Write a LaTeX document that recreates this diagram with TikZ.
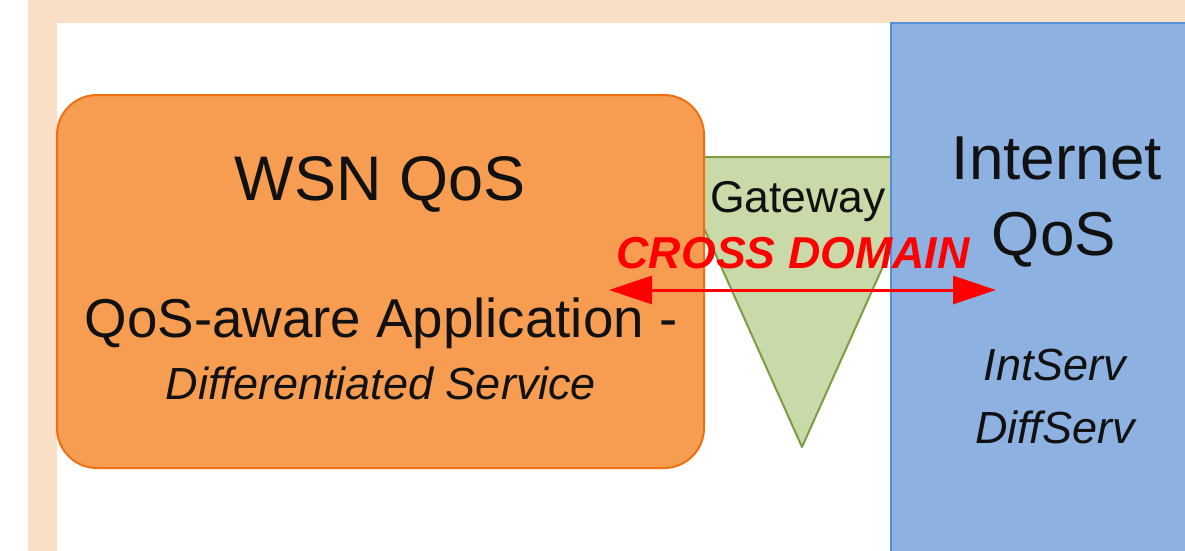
\documentclass[tikz,border=0pt]{standalone}
\usepackage{fontspec}
\setmainfont{Liberation Sans}
\usetikzlibrary{arrows.meta}
\definecolor{peach}{HTML}{FADFC7}
\definecolor{wsnfill}{HTML}{F79D51}
\definecolor{wsnline}{HTML}{EE7012}
\definecolor{netfill}{HTML}{8DB2E2}
\definecolor{netline}{HTML}{5790D6}
\definecolor{gwfill}{HTML}{C9D9A7}
\definecolor{gwline}{HTML}{7D9D45}
\definecolor{txt}{HTML}{111111}
\tikzset{
  label/.style={anchor=base, inner sep=0pt, text=txt},
  crossarrow/.style={draw=red, line width=3pt,
    {Triangle[length=43pt,width=28pt]}-{Triangle[length=43pt,width=28pt]}},
}
\begin{document}
\begin{tikzpicture}[x=1pt,y=-1pt]
\useasboundingbox (0,0) rectangle (1185,551);
% page frame
\fill[white] (0,0) rectangle (1185,551);
\fill[peach] (28,0) rectangle (1185,551);
\fill[white] (57,23) rectangle (1185,551);

% gateway triangle, partly covered by both domains
\draw[fill=gwfill, draw=gwline, line width=2pt, line join=round]
  (672,157) -- (932,157) -- (802,447) -- cycle;

% WSN domain
\draw[fill=wsnfill, draw=wsnline, line width=2pt, rounded corners=40pt]
  (57,95) rectangle (704,468);

% Internet domain
\draw[fill=netfill, draw=netline, line width=2.5pt]
  (891,23) rectangle (1200,570);

% labels
\node[label, font=\fontsize{63}{70}\selectfont] (wsn) at (380,200) {WSN QoS};
\node[label, font=\fontsize{54.7}{60}\selectfont] (app) at (381,337) {QoS-aware Application -};
\node[label, font=\fontsize{45}{50}\itshape] (diff) at (381,399) {Differentiated Service};
\node[label, font=\fontsize{44.5}{50}\selectfont] (gw) at (798,212) {Gateway};
\node[label, font=\fontsize{62}{70}\selectfont] (inet) at (1057,179) {Internet};
\node[label, font=\fontsize{62}{70}\selectfont] (qos) at (1054,255) {QoS};
\node[label, font=\fontsize{45}{50}\itshape] (intserv) at (1055,380) {IntServ};
\node[label, font=\fontsize{45}{50}\itshape] (diffserv) at (1055,443) {DiffServ};
\node[label, text=red, font=\fontsize{44.7}{50}\bfseries\itshape] (cross) at (793,268) {CROSS DOMAIN};

% cross-domain link
\coordinate (wsnend) at (609,290);
\coordinate (netend) at (996,290);
\draw[crossarrow] (wsnend) -- (netend);
\end{tikzpicture}
\end{document}
